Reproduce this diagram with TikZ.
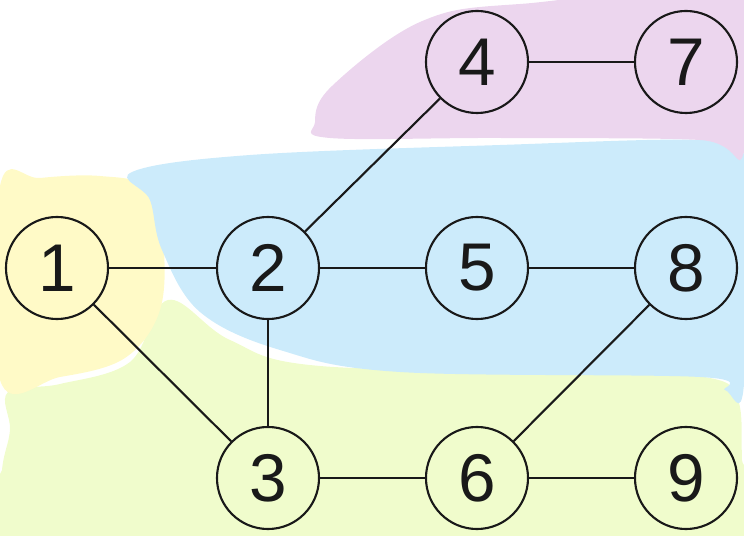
\documentclass[tikz,border=0pt]{standalone}
\usepackage{fontspec}
\setmainfont{Liberation Sans}
\usetikzlibrary{positioning}
\definecolor{pinkhl}{RGB}{236,214,238}
\definecolor{bluehl}{RGB}{204,235,251}
\definecolor{yellowhl}{RGB}{255,250,199}
\definecolor{greenhl}{RGB}{240,252,204}
\definecolor{ink}{RGB}{25,25,25}

\begin{document}
\begin{tikzpicture}[x=0.025cm, y=-0.025cm,
  vertex/.style={circle, draw=ink, line width=1.5pt, minimum size=2.55cm, inner sep=0pt,
    font=\fontsize{48}{48}\selectfont, text=ink},
  edge/.style={draw=ink, line width=1.5pt}]
\useasboundingbox (0,0) rectangle (744,536);

% Markierungen
\fill[greenhl] plot[smooth cycle, tension=0.6] coordinates {(8,392) (60,384) (130,362) (168,300) (230,340) (320,366) (600,372) (710,378) (738,400) (742,460) (744,536) (0,536) (2,470) (10,430)};
\fill[yellowhl] plot[smooth cycle, tension=0.6] coordinates {(0,186) (40,178) (100,176) (148,188) (163,240) (160,310) (125,358) (60,377) (0,380)};
\fill[bluehl] plot[smooth cycle, tension=0.6] coordinates {(132,172) (250,155) (500,145) (700,140) (744,155) (744,384) (725,390) (700,377) (400,372) (280,350) (200,312) (162,250) (150,200)};
\fill[pinkhl] plot[smooth cycle, tension=0.6] coordinates {(332,86) (420,22) (520,4) (744,0) (744,152) (700,140) (500,138) (330,138) (315,122)};

% Knoten
\node[vertex] (n1) at (57,268) {1};
\node[vertex] (n2) at (268,268) {2};
\node[vertex] (n3) at (268,478) {3};
\node[vertex] (n4) at (477,62) {4};
\node[vertex] (n5) at (477,268) {5};
\node[vertex] (n6) at (477,478) {6};
\node[vertex] (n7) at (686,62) {7};
\node[vertex] (n8) at (686,268) {8};
\node[vertex] (n9) at (686,478) {9};

% Kanten
\draw[edge] (n1) -- (n2);
\draw[edge] (n1) -- (n3);
\draw[edge] (n2) -- (n3);
\draw[edge] (n2) -- (n4);
\draw[edge] (n2) -- (n5);
\draw[edge] (n4) -- (n7);
\draw[edge] (n5) -- (n8);
\draw[edge] (n3) -- (n6);
\draw[edge] (n6) -- (n8);
\draw[edge] (n6) -- (n9);
\end{tikzpicture}
\end{document}
